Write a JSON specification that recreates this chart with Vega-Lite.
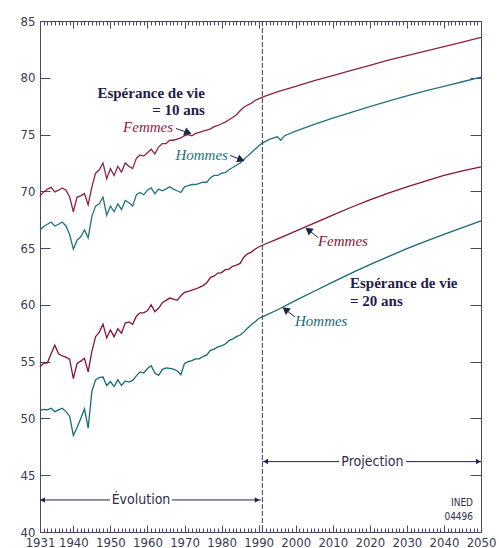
{
"$schema": "https://vega.github.io/schema/vega-lite/v6.json",
"width": 441, "height": 511,
"autosize": {"type": "none"},
"padding": {"left": 40, "top": 21, "right": 18, "bottom": 16},
"background": "white",
"config": {"view": {"stroke": "#4a4766", "strokeWidth": 1}, "axis": {"domainColor": "#4a4766", "tickColor": "#4a4766", "labelColor": "#3a3a52", "labelFont": "DejaVu Sans Condensed", "labelFontSize": 13, "grid": false, "domainWidth": 1, "tickWidth": 1}},
"resolve": {"scale": {"x": "independent", "y": "independent"}, "axis": {"x": "independent", "y": "independent"}},
"datasets": {
"lines": [
{"year":1931,"value":69.6,"series":"F10"},{"year":1932,"value":69.95,"series":"F10"},{"year":1933,"value":70.2,"series":"F10"},{"year":1934,"value":70.35,"series":"F10"},{"year":1935,"value":69.95,"series":"F10"},{"year":1936,"value":70.1,"series":"F10"},{"year":1937,"value":70.3,"series":"F10"},{"year":1938,"value":70.1,"series":"F10"},{"year":1939,"value":69.5,"series":"F10"},{"year":1940,"value":68.2,"series":"F10"},{"year":1941,"value":69.5,"series":"F10"},{"year":1942,"value":69.6,"series":"F10"},{"year":1943,"value":69.8,"series":"F10"},{"year":1944,"value":68.8,"series":"F10"},{"year":1945,"value":70.4,"series":"F10"},{"year":1946,"value":71.6,"series":"F10"},{"year":1947,"value":71.9,"series":"F10"},{"year":1948,"value":72.5,"series":"F10"},{"year":1949,"value":71.1,"series":"F10"},{"year":1950,"value":72.0,"series":"F10"},{"year":1951,"value":71.4,"series":"F10"},{"year":1952,"value":72.2,"series":"F10"},{"year":1953,"value":71.7,"series":"F10"},{"year":1954,"value":72.5,"series":"F10"},{"year":1955,"value":72.2,"series":"F10"},{"year":1956,"value":72.0,"series":"F10"},{"year":1957,"value":72.9,"series":"F10"},{"year":1958,"value":73.2,"series":"F10"},{"year":1959,"value":73.1,"series":"F10"},{"year":1960,"value":73.4,"series":"F10"},{"year":1961,"value":73.7,"series":"F10"},{"year":1962,"value":73.3,"series":"F10"},{"year":1963,"value":73.9,"series":"F10"},{"year":1964,"value":74.2,"series":"F10"},{"year":1965,"value":74.2,"series":"F10"},{"year":1966,"value":74.5,"series":"F10"},{"year":1967,"value":74.5,"series":"F10"},{"year":1968,"value":74.6,"series":"F10"},{"year":1969,"value":74.7,"series":"F10"},{"year":1970,"value":74.9,"series":"F10"},{"year":1971,"value":75.0,"series":"F10"},{"year":1972,"value":74.9,"series":"F10"},{"year":1973,"value":75.1,"series":"F10"},{"year":1974,"value":75.2,"series":"F10"},{"year":1975,"value":75.3,"series":"F10"},{"year":1976,"value":75.4,"series":"F10"},{"year":1977,"value":75.5,"series":"F10"},{"year":1978,"value":75.7,"series":"F10"},{"year":1979,"value":75.8,"series":"F10"},{"year":1980,"value":75.95,"series":"F10"},{"year":1981,"value":76.1,"series":"F10"},{"year":1982,"value":76.3,"series":"F10"},{"year":1983,"value":76.5,"series":"F10"},{"year":1984,"value":76.75,"series":"F10"},{"year":1985,"value":77.1,"series":"F10"},{"year":1986,"value":77.4,"series":"F10"},{"year":1987,"value":77.6,"series":"F10"},{"year":1988,"value":77.75,"series":"F10"},{"year":1989,"value":78.0,"series":"F10"},{"year":1990,"value":78.15,"series":"F10"},
{"year":1991,"value":78.3,"series":"F10"},{"year":1995,"value":78.75,"series":"F10"},{"year":2000,"value":79.25,"series":"F10"},{"year":2005,"value":79.75,"series":"F10"},{"year":2010,"value":80.2,"series":"F10"},{"year":2015,"value":80.65,"series":"F10"},{"year":2020,"value":81.1,"series":"F10"},{"year":2025,"value":81.55,"series":"F10"},{"year":2030,"value":81.95,"series":"F10"},{"year":2035,"value":82.35,"series":"F10"},{"year":2040,"value":82.75,"series":"F10"},{"year":2045,"value":83.15,"series":"F10"},{"year":2050,"value":83.55,"series":"F10"},
{"year":1931,"value":66.6,"series":"H10"},{"year":1932,"value":66.9,"series":"H10"},{"year":1933,"value":67.1,"series":"H10"},{"year":1934,"value":67.3,"series":"H10"},{"year":1935,"value":66.95,"series":"H10"},{"year":1936,"value":67.1,"series":"H10"},{"year":1937,"value":67.3,"series":"H10"},{"year":1938,"value":66.95,"series":"H10"},{"year":1939,"value":66.2,"series":"H10"},{"year":1940,"value":64.9,"series":"H10"},{"year":1941,"value":65.7,"series":"H10"},{"year":1942,"value":66.0,"series":"H10"},{"year":1943,"value":66.6,"series":"H10"},{"year":1944,"value":65.9,"series":"H10"},{"year":1945,"value":67.8,"series":"H10"},{"year":1946,"value":68.7,"series":"H10"},{"year":1947,"value":68.9,"series":"H10"},{"year":1948,"value":69.5,"series":"H10"},{"year":1949,"value":67.9,"series":"H10"},{"year":1950,"value":68.7,"series":"H10"},{"year":1951,"value":68.2,"series":"H10"},{"year":1952,"value":68.9,"series":"H10"},{"year":1953,"value":68.4,"series":"H10"},{"year":1954,"value":69.2,"series":"H10"},{"year":1955,"value":69.0,"series":"H10"},{"year":1956,"value":68.7,"series":"H10"},{"year":1957,"value":69.7,"series":"H10"},{"year":1958,"value":69.9,"series":"H10"},{"year":1959,"value":69.7,"series":"H10"},{"year":1960,"value":70.1,"series":"H10"},{"year":1961,"value":70.3,"series":"H10"},{"year":1962,"value":69.8,"series":"H10"},{"year":1963,"value":70.2,"series":"H10"},{"year":1964,"value":70.05,"series":"H10"},{"year":1965,"value":70.2,"series":"H10"},{"year":1966,"value":70.4,"series":"H10"},{"year":1967,"value":70.2,"series":"H10"},{"year":1968,"value":70.05,"series":"H10"},{"year":1969,"value":69.9,"series":"H10"},{"year":1970,"value":70.4,"series":"H10"},{"year":1971,"value":70.5,"series":"H10"},{"year":1972,"value":70.6,"series":"H10"},{"year":1973,"value":70.6,"series":"H10"},{"year":1974,"value":70.7,"series":"H10"},{"year":1975,"value":70.8,"series":"H10"},{"year":1976,"value":70.8,"series":"H10"},{"year":1977,"value":71.2,"series":"H10"},{"year":1978,"value":71.4,"series":"H10"},{"year":1979,"value":71.4,"series":"H10"},{"year":1980,"value":71.6,"series":"H10"},{"year":1981,"value":71.65,"series":"H10"},{"year":1982,"value":71.9,"series":"H10"},{"year":1983,"value":72.1,"series":"H10"},{"year":1984,"value":72.3,"series":"H10"},{"year":1985,"value":72.5,"series":"H10"},{"year":1986,"value":72.8,"series":"H10"},{"year":1987,"value":73.1,"series":"H10"},{"year":1988,"value":73.4,"series":"H10"},{"year":1989,"value":73.7,"series":"H10"},{"year":1990,"value":74.0,"series":"H10"},
{"year":1991,"value":74.25,"series":"H10"},{"year":1993,"value":74.6,"series":"H10"},{"year":1995,"value":74.8,"series":"H10"},{"year":1996,"value":74.5,"series":"H10"},{"year":1997,"value":74.9,"series":"H10"},{"year":2000,"value":75.3,"series":"H10"},{"year":2005,"value":75.9,"series":"H10"},{"year":2010,"value":76.45,"series":"H10"},{"year":2015,"value":76.95,"series":"H10"},{"year":2020,"value":77.45,"series":"H10"},{"year":2025,"value":77.95,"series":"H10"},{"year":2030,"value":78.4,"series":"H10"},{"year":2035,"value":78.85,"series":"H10"},{"year":2040,"value":79.25,"series":"H10"},{"year":2045,"value":79.65,"series":"H10"},{"year":2050,"value":80.05,"series":"H10"},
{"year":1931,"value":54.55,"series":"F20"},{"year":1932,"value":54.85,"series":"F20"},{"year":1933,"value":54.9,"series":"F20"},{"year":1934,"value":55.7,"series":"F20"},{"year":1935,"value":56.45,"series":"F20"},{"year":1936,"value":55.7,"series":"F20"},{"year":1937,"value":55.5,"series":"F20"},{"year":1938,"value":55.4,"series":"F20"},{"year":1939,"value":55.2,"series":"F20"},{"year":1940,"value":53.5,"series":"F20"},{"year":1941,"value":54.85,"series":"F20"},{"year":1942,"value":55.05,"series":"F20"},{"year":1943,"value":55.3,"series":"F20"},{"year":1944,"value":54.1,"series":"F20"},{"year":1945,"value":55.9,"series":"F20"},{"year":1946,"value":57.2,"series":"F20"},{"year":1947,"value":57.6,"series":"F20"},{"year":1948,"value":58.3,"series":"F20"},{"year":1949,"value":57.1,"series":"F20"},{"year":1950,"value":57.8,"series":"F20"},{"year":1951,"value":57.2,"series":"F20"},{"year":1952,"value":57.9,"series":"F20"},{"year":1953,"value":57.5,"series":"F20"},{"year":1954,"value":58.4,"series":"F20"},{"year":1955,"value":58.5,"series":"F20"},{"year":1956,"value":58.3,"series":"F20"},{"year":1957,"value":59.0,"series":"F20"},{"year":1958,"value":59.3,"series":"F20"},{"year":1959,"value":59.3,"series":"F20"},{"year":1960,"value":59.5,"series":"F20"},{"year":1961,"value":60.0,"series":"F20"},{"year":1962,"value":59.4,"series":"F20"},{"year":1963,"value":59.7,"series":"F20"},{"year":1964,"value":60.2,"series":"F20"},{"year":1965,"value":60.4,"series":"F20"},{"year":1966,"value":60.6,"series":"F20"},{"year":1967,"value":60.5,"series":"F20"},{"year":1968,"value":60.4,"series":"F20"},{"year":1969,"value":60.8,"series":"F20"},{"year":1970,"value":61.1,"series":"F20"},{"year":1971,"value":61.2,"series":"F20"},{"year":1972,"value":61.3,"series":"F20"},{"year":1973,"value":61.4,"series":"F20"},{"year":1974,"value":61.55,"series":"F20"},{"year":1975,"value":61.7,"series":"F20"},{"year":1976,"value":61.95,"series":"F20"},{"year":1977,"value":62.4,"series":"F20"},{"year":1978,"value":62.55,"series":"F20"},{"year":1979,"value":62.8,"series":"F20"},{"year":1980,"value":62.85,"series":"F20"},{"year":1981,"value":63.1,"series":"F20"},{"year":1982,"value":63.15,"series":"F20"},{"year":1983,"value":63.4,"series":"F20"},{"year":1984,"value":63.5,"series":"F20"},{"year":1985,"value":63.65,"series":"F20"},{"year":1986,"value":64.2,"series":"F20"},{"year":1987,"value":64.5,"series":"F20"},{"year":1988,"value":64.65,"series":"F20"},{"year":1989,"value":64.9,"series":"F20"},{"year":1990,"value":65.1,"series":"F20"},
{"year":1991,"value":65.25,"series":"F20"},{"year":1995,"value":65.8,"series":"F20"},{"year":2000,"value":66.5,"series":"F20"},{"year":2005,"value":67.2,"series":"F20"},{"year":2010,"value":67.9,"series":"F20"},{"year":2015,"value":68.6,"series":"F20"},{"year":2020,"value":69.25,"series":"F20"},{"year":2025,"value":69.85,"series":"F20"},{"year":2030,"value":70.4,"series":"F20"},{"year":2035,"value":70.9,"series":"F20"},{"year":2040,"value":71.4,"series":"F20"},{"year":2045,"value":71.8,"series":"F20"},{"year":2050,"value":72.15,"series":"F20"},
{"year":1931,"value":50.7,"series":"H20"},{"year":1932,"value":50.8,"series":"H20"},{"year":1933,"value":50.75,"series":"H20"},{"year":1934,"value":50.9,"series":"H20"},{"year":1935,"value":50.6,"series":"H20"},{"year":1936,"value":50.75,"series":"H20"},{"year":1937,"value":50.9,"series":"H20"},{"year":1938,"value":50.6,"series":"H20"},{"year":1939,"value":50.2,"series":"H20"},{"year":1940,"value":48.5,"series":"H20"},{"year":1941,"value":49.2,"series":"H20"},{"year":1942,"value":50.0,"series":"H20"},{"year":1943,"value":50.85,"series":"H20"},{"year":1944,"value":49.15,"series":"H20"},{"year":1945,"value":52.4,"series":"H20"},{"year":1946,"value":53.4,"series":"H20"},{"year":1947,"value":53.6,"series":"H20"},{"year":1948,"value":53.65,"series":"H20"},{"year":1949,"value":52.9,"series":"H20"},{"year":1950,"value":53.25,"series":"H20"},{"year":1951,"value":52.8,"series":"H20"},{"year":1952,"value":53.4,"series":"H20"},{"year":1953,"value":52.9,"series":"H20"},{"year":1954,"value":53.3,"series":"H20"},{"year":1955,"value":53.2,"series":"H20"},{"year":1956,"value":53.35,"series":"H20"},{"year":1957,"value":53.75,"series":"H20"},{"year":1958,"value":54.1,"series":"H20"},{"year":1959,"value":54.0,"series":"H20"},{"year":1960,"value":54.4,"series":"H20"},{"year":1961,"value":54.65,"series":"H20"},{"year":1962,"value":54.0,"series":"H20"},{"year":1963,"value":53.8,"series":"H20"},{"year":1964,"value":54.3,"series":"H20"},{"year":1965,"value":54.45,"series":"H20"},{"year":1966,"value":54.4,"series":"H20"},{"year":1967,"value":54.35,"series":"H20"},{"year":1968,"value":54.2,"series":"H20"},{"year":1969,"value":53.85,"series":"H20"},{"year":1970,"value":54.85,"series":"H20"},{"year":1971,"value":55.0,"series":"H20"},{"year":1972,"value":55.1,"series":"H20"},{"year":1973,"value":55.25,"series":"H20"},{"year":1974,"value":55.25,"series":"H20"},{"year":1975,"value":55.45,"series":"H20"},{"year":1976,"value":55.6,"series":"H20"},{"year":1977,"value":56.0,"series":"H20"},{"year":1978,"value":56.1,"series":"H20"},{"year":1979,"value":56.3,"series":"H20"},{"year":1980,"value":56.4,"series":"H20"},{"year":1981,"value":56.55,"series":"H20"},{"year":1982,"value":56.85,"series":"H20"},{"year":1983,"value":57.0,"series":"H20"},{"year":1984,"value":57.2,"series":"H20"},{"year":1985,"value":57.35,"series":"H20"},{"year":1986,"value":57.6,"series":"H20"},{"year":1987,"value":57.95,"series":"H20"},{"year":1988,"value":58.25,"series":"H20"},{"year":1989,"value":58.5,"series":"H20"},{"year":1990,"value":58.8,"series":"H20"},
{"year":1991,"value":58.95,"series":"H20"},{"year":1995,"value":59.55,"series":"H20"},{"year":2000,"value":60.4,"series":"H20"},{"year":2005,"value":61.2,"series":"H20"},{"year":2010,"value":62.0,"series":"H20"},{"year":2015,"value":62.8,"series":"H20"},{"year":2020,"value":63.55,"series":"H20"},{"year":2025,"value":64.25,"series":"H20"},{"year":2030,"value":64.95,"series":"H20"},{"year":2035,"value":65.6,"series":"H20"},{"year":2040,"value":66.2,"series":"H20"},{"year":2045,"value":66.8,"series":"H20"},{"year":2050,"value":67.4,"series":"H20"}
],
"shafts": [
{"year":1967.7,"value":75.53,"year2":1970.96,"value2":75.17},
{"year":1982.27,"value":73.16,"year2":1985.26,"value2":72.79},
{"year":2006.0,"value":65.94,"year2":2003.42,"value2":66.6},
{"year":1999.81,"value":58.93,"year2":1997.22,"value2":59.59},
{"year":1931,"value":42.82,"year2":1949.9,"value2":42.82},
{"year":1966.6,"value":42.82,"year2":1990.6,"value2":42.82},
{"year":1991,"value":46.2,"year2":2011.7,"value2":46.2},
{"year":2029.8,"value":46.2,"year2":2050,"value2":46.2}
],
"heads": [
{"year":1970.96,"value":75.17,"dir":"down-right"},
{"year":1985.26,"value":72.79,"dir":"down-right"},
{"year":2003.42,"value":66.6,"dir":"up-left"},
{"year":1997.22,"value":59.59,"dir":"up-left"},
{"year":1989.6,"value":42.82,"dir":"right"},
{"year":2049.3,"value":46.2,"dir":"right"},
{"year":1931.7,"value":42.82,"dir":"left"},
{"year":1991.9,"value":46.2,"dir":"left"}
],
"notes": [
{"year":1975.5,"value":78.66,"label":"Espérance de vie","group":"t10"},
{"year":1975.5,"value":77.16,"label":"= 10 ans","group":"t10"},
{"year":2014.65,"value":61.93,"label":"Espérance de vie","group":"t20"},
{"year":2014.65,"value":60.34,"label":"= 20 ans","group":"t20"},
{"year":1966.9,"value":75.67,"label":"Femmes","series":"F10","group":"n10"},
{"year":1981.7,"value":73.2,"label":"Hommes","series":"H10","group":"n10"},
{"year":2006.0,"value":65.63,"label":"Femmes","series":"F20","group":"n20"},
{"year":1999.8,"value":58.58,"label":"Hommes","series":"H20","group":"n20"},
{"year":1958.25,"value":42.82,"label":"Évolution","group":"period"},
{"year":2020.7,"value":46.2,"label":"Projection","group":"period"},
{"year":2047.85,"value":42.56,"label":"INED","group":"src"},
{"year":2047.85,"value":41.32,"label":"04496","group":"src"}
],
"split": [{"year": 1991}]
},
"layer": [
{
"data": {"name": "lines"},
"mark": {"type": "line", "interpolate": "linear"},
"encoding": {
"x": {"field": "year", "type": "quantitative", "scale": {"domain": [1931, 2050], "nice": false, "zero": false},
 "axis": {"orient": "bottom", "title": null, "values": [1931,1940,1950,1960,1970,1980,1990,2000,2010,2020,2030,2040,2050], "format": "d", "tickSize": -7, "labelPadding": 11, "labelOverlap": false, "labelFlush": false, "labelBound": false}},
"y": {"field": "value", "type": "quantitative", "scale": {"domain": [40, 85], "nice": false, "zero": false},
 "axis": {"orient": "left", "title": null, "values": [40,45,50,55,60,65,70,75,80,85], "tickSize": -10, "labelPadding": 15}},
"color": {"field": "series", "type": "nominal", "scale": {"domain": ["F10","H10","F20","H20"], "range": ["#8e2244","#22737a","#85143a","#176a72"]}, "legend": null},
"strokeWidth": {"field": "series", "type": "ordinal", "scale": {"domain": ["F10","H10","F20","H20"], "range": [1.3,1.3,2.3,2.3]}, "legend": null},
"detail": {"field": "series"}
}
},
{
"data": {"name": "shafts"},
"mark": {"type": "rule", "color": "#23224a", "strokeWidth": 1},
"encoding": {
"x": {"field": "year", "type": "quantitative", "scale": {"domain": [1931, 2050], "nice": false, "zero": false},
 "axis": {"orient": "bottom", "title": null, "labels": false, "tickSize": -4, "values": [1931,1932,1933,1934,1935,1936,1937,1938,1939,1940,1941,1942,1943,1944,1945,1946,1947,1948,1949,1950,1951,1952,1953,1954,1955,1956,1957,1958,1959,1960,1961,1962,1963,1964,1965,1966,1967,1968,1969,1970,1971,1972,1973,1974,1975,1976,1977,1978,1979,1980,1981,1982,1983,1984,1985,1986,1987,1988,1989,1990,1991,1992,1993,1994,1995,1996,1997,1998,1999,2000,2001,2002,2003,2004,2005,2006,2007,2008,2009,2010,2011,2012,2013,2014,2015,2016,2017,2018,2019,2020,2021,2022,2023,2024,2025,2026,2027,2028,2029,2030,2031,2032,2033,2034,2035,2036,2037,2038,2039,2040,2041,2042,2043,2044,2045,2046,2047,2048,2049,2050]}},
"x2": {"field": "year2"},
"y": {"field": "value", "type": "quantitative", "scale": {"domain": [40, 85], "nice": false, "zero": false},
 "axis": {"orient": "right", "title": null, "labels": false, "values": [40,45,50,55,60,65,70,75,80,85], "tickSize": -11}},
"y2": {"field": "value2"}
}
},
{
"data": {"name": "heads"},
"transform": [{"filter": "datum.dir === 'down-right'"}],
"mark": {"type": "point", "shape": "triangle-right", "angle": 20, "filled": true, "color": "#23224a", "size": 70, "opacity": 1},
"encoding": {
"x": {"field": "year", "type": "quantitative", "scale": {"domain": [1931, 2050], "nice": false, "zero": false},
 "axis": {"orient": "top", "title": null, "labels": false, "tickSize": -4, "values": [1931,1932,1933,1934,1935,1936,1937,1938,1939,1940,1941,1942,1943,1944,1945,1946,1947,1948,1949,1950,1951,1952,1953,1954,1955,1956,1957,1958,1959,1960,1961,1962,1963,1964,1965,1966,1967,1968,1969,1970,1971,1972,1973,1974,1975,1976,1977,1978,1979,1980,1981,1982,1983,1984,1985,1986,1987,1988,1989,1990,1991,1992,1993,1994,1995,1996,1997,1998,1999,2000,2001,2002,2003,2004,2005,2006,2007,2008,2009,2010,2011,2012,2013,2014,2015,2016,2017,2018,2019,2020,2021,2022,2023,2024,2025,2026,2027,2028,2029,2030,2031,2032,2033,2034,2035,2036,2037,2038,2039,2040,2041,2042,2043,2044,2045,2046,2047,2048,2049,2050]}},
"y": {"field": "value", "type": "quantitative", "scale": {"domain": [40, 85], "nice": false, "zero": false}, "axis": null}
}
},
{
"data": {"name": "heads"},
"transform": [{"filter": "datum.dir === 'up-left'"}],
"mark": {"type": "point", "shape": "triangle-right", "angle": 217, "filled": true, "color": "#23224a", "size": 70, "opacity": 1},
"encoding": {
"x": {"field": "year", "type": "quantitative", "scale": {"domain": [1931, 2050], "nice": false, "zero": false},
 "axis": {"orient": "top", "title": null, "labels": false, "tickSize": -7, "values": [1940,1950,1960,1970,1980,1990,2000,2010,2020,2030,2040]}},
"y": {"field": "value", "type": "quantitative", "scale": {"domain": [40, 85], "nice": false, "zero": false}, "axis": null}
}
},
{
"data": {"name": "heads"},
"transform": [{"filter": "datum.dir === 'right'"}],
"mark": {"type": "point", "shape": "triangle-right", "filled": true, "color": "#23224a", "size": 30, "opacity": 1},
"encoding": {
"x": {"field": "year", "type": "quantitative", "scale": {"domain": [1931, 2050], "nice": false, "zero": false}, "axis": null},
"y": {"field": "value", "type": "quantitative", "scale": {"domain": [40, 85], "nice": false, "zero": false}, "axis": null}
}
},
{
"data": {"name": "heads"},
"transform": [{"filter": "datum.dir === 'left'"}],
"mark": {"type": "point", "shape": "triangle-left", "filled": true, "color": "#23224a", "size": 30, "opacity": 1},
"encoding": {
"x": {"field": "year", "type": "quantitative", "scale": {"domain": [1931, 2050], "nice": false, "zero": false}, "axis": null},
"y": {"field": "value", "type": "quantitative", "scale": {"domain": [40, 85], "nice": false, "zero": false}, "axis": null}
}
},
{
"data": {"name": "notes"},
"transform": [{"filter": "datum.group === 't10'"}],
"mark": {"type": "text", "align": "right", "baseline": "middle", "font": "Liberation Serif", "fontWeight": "bold", "fontSize": 15, "color": "#1f1d4a"},
"encoding": {
"x": {"field": "year", "type": "quantitative", "scale": {"domain": [1931, 2050], "nice": false, "zero": false}, "axis": null},
"y": {"field": "value", "type": "quantitative", "scale": {"domain": [40, 85], "nice": false, "zero": false}, "axis": null},
"text": {"field": "label"}
}
},
{
"data": {"name": "notes"},
"transform": [{"filter": "datum.group === 't20'"}],
"mark": {"type": "text", "align": "left", "baseline": "middle", "font": "Liberation Serif", "fontWeight": "bold", "fontSize": 15, "color": "#1f1d4a"},
"encoding": {
"x": {"field": "year", "type": "quantitative", "scale": {"domain": [1931, 2050], "nice": false, "zero": false}, "axis": null},
"y": {"field": "value", "type": "quantitative", "scale": {"domain": [40, 85], "nice": false, "zero": false}, "axis": null},
"text": {"field": "label"}
}
},
{
"data": {"name": "notes"},
"transform": [{"filter": "datum.group === 'n10'"}],
"mark": {"type": "text", "align": "right", "baseline": "middle", "font": "Liberation Serif", "fontStyle": "italic", "fontSize": 15},
"encoding": {
"x": {"field": "year", "type": "quantitative", "scale": {"domain": [1931, 2050], "nice": false, "zero": false}, "axis": null},
"y": {"field": "value", "type": "quantitative", "scale": {"domain": [40, 85], "nice": false, "zero": false}, "axis": null},
"color": {"field": "series", "type": "nominal", "legend": null},
"text": {"field": "label"}
}
},
{
"data": {"name": "notes"},
"transform": [{"filter": "datum.group === 'n20'"}],
"mark": {"type": "text", "align": "left", "baseline": "middle", "font": "Liberation Serif", "fontStyle": "italic", "fontSize": 15},
"encoding": {
"x": {"field": "year", "type": "quantitative", "scale": {"domain": [1931, 2050], "nice": false, "zero": false}, "axis": null},
"y": {"field": "value", "type": "quantitative", "scale": {"domain": [40, 85], "nice": false, "zero": false}, "axis": null},
"color": {"field": "series", "type": "nominal", "legend": null},
"text": {"field": "label"}
}
},
{
"data": {"name": "notes"},
"transform": [{"filter": "datum.group === 'period'"}],
"mark": {"type": "text", "align": "center", "baseline": "middle", "font": "DejaVu Sans Condensed", "fontSize": 14, "color": "#2e2d4a"},
"encoding": {
"x": {"field": "year", "type": "quantitative", "scale": {"domain": [1931, 2050], "nice": false, "zero": false}, "axis": null},
"y": {"field": "value", "type": "quantitative", "scale": {"domain": [40, 85], "nice": false, "zero": false}, "axis": null},
"text": {"field": "label"}
}
},
{
"data": {"name": "notes"},
"transform": [{"filter": "datum.group === 'src'"}],
"mark": {"type": "text", "align": "right", "baseline": "middle", "font": "DejaVu Sans Condensed", "fontSize": 10, "color": "#2e2d4a"},
"encoding": {
"x": {"field": "year", "type": "quantitative", "scale": {"domain": [1931, 2050], "nice": false, "zero": false}, "axis": null},
"y": {"field": "value", "type": "quantitative", "scale": {"domain": [40, 85], "nice": false, "zero": false}, "axis": null},
"text": {"field": "label"}
}
},
{
"data": {"name": "split"},
"mark": {"type": "rule", "color": "#3d3a5e", "strokeDash": [5, 2], "strokeWidth": 1},
"encoding": {"x": {"field": "year", "type": "quantitative", "scale": {"domain": [1931, 2050], "nice": false, "zero": false}, "axis": null}}
}
]
}
